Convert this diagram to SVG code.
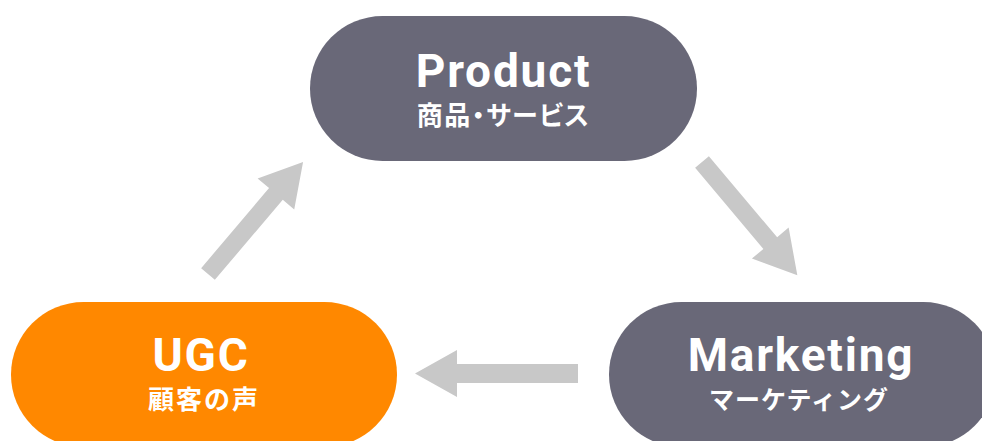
<svg xmlns="http://www.w3.org/2000/svg" width="982" height="441" viewBox="0 0 982 441">
<style>
.pill{fill:#696878}
.ugc{fill:#ff8800}
.t{font-family:Roboto,"Liberation Sans",sans-serif;font-weight:700;font-size:46px;letter-spacing:1.8px;fill:#fff;text-anchor:middle}
.s{font-family:"Noto Sans CJK JP",sans-serif;font-weight:700;font-size:25px;letter-spacing:1px;fill:#fff;text-anchor:middle}
.arr{fill:#c8c8c8}
</style>
<rect width="982" height="441" fill="#fff"/>
<g id="connectors">
<polygon class="arr" transform="translate(208,274) rotate(-49.7)" points="0,-9 105,-9 105,-24 147,0 105,24 105,9 0,9"/>
<polygon class="arr" transform="translate(702,162) rotate(49.9)" points="0,-9 106,-9 106,-24 148,0 106,24 106,9 0,9"/>
<polygon class="arr" transform="translate(578,373.5) rotate(180)" points="0,-9.5 121,-9.5 121,-23.5 163,0 121,23.5 121,9.5 0,9.5"/>
</g>
<g id="product">
<rect class="pill" x="310" y="16" width="387" height="145" rx="72.5"/>
<text class="t" x="503.5" y="87">Product</text>
<text class="s" x="503.5" y="124.5" style="font-feature-settings:'palt';font-size:26px;letter-spacing:1.5px">商品・サービス</text>
</g>
<g id="ugc">
<rect class="ugc" x="11" y="302" width="386" height="145" rx="72.5"/>
<text class="t" x="201" y="371">UGC</text>
<text class="s" x="204" y="408.5" style="font-size:26px;letter-spacing:2px">顧客の声</text>
</g>
<g id="marketing">
<rect class="pill" x="609" y="302" width="387" height="145" rx="72.5"/>
<text class="t" x="801" y="371">Marketing</text>
<text class="s" x="799" y="408.5">マーケティング</text>
</g>
</svg>
